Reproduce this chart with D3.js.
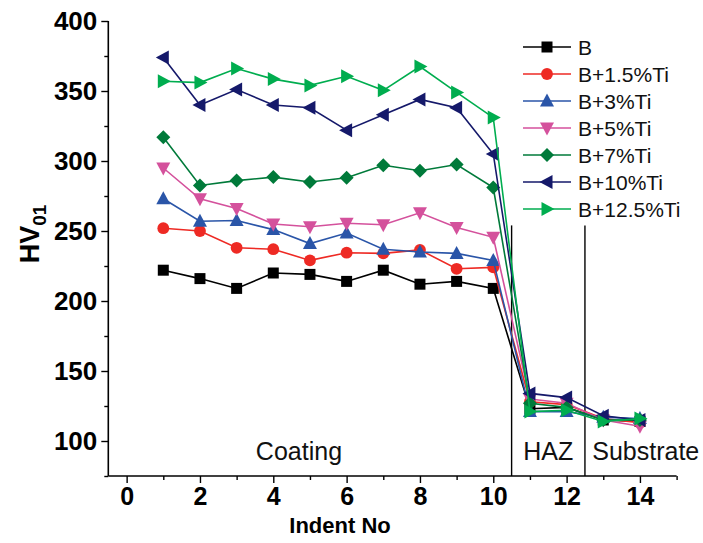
<!DOCTYPE html>
<html><head><meta charset="utf-8">
<script src="https://cdn.jsdelivr.net/npm/d3@7"></script>
<style>
body{margin:0;background:#fff;}
svg{display:block;font-family:"Liberation Sans",Arial,sans-serif;}
</style></head>
<body><svg id="c" width="703" height="543"></svg>
<script>
const indents = [1,2,3,4,5,6,7,8,9,10,11,12,13,14];
const seriesNames = ["B","B+1.5%Ti","B+3%Ti","B+5%Ti","B+7%Ti","B+10%Ti","B+12.5%Ti"];
const sB    = [222,216,209,220,219,214,222,212,214,209,123,124,115,114];
const sTi15 = [252,250,238,237,229,234.5,234,236.5,223,224,128,126,116,113];
const sTi3  = [273,257,257.5,251,241,248.5,237,235,234,229,121,121,117,116];
const sTi5  = [295,273,266,255,253,255.5,254.5,263,252.5,245.5,130,127,115,110.5];
const sTi7  = [317,282.5,286,288.5,285,288,297,293,297.5,281,127,124,115,115];
const sTi10 = [374,340,351,340,338,322,333,344,338,305,134,131,118,115];
const sTi125= [357,356,366,358.5,354,360.5,350.5,367.5,349,331,121,122,114,116];
const xTicks = [0,2,4,6,8,10,12,14];
const yTicks = [100,150,200,250,300,350,400];
const zoneLabels = ["Coating","HAZ","Substrate"];
const zoneBounds = [10.5,12.5];
const zoneTop = 254;

const allSeries = [sB,sTi15,sTi3,sTi5,sTi7,sTi10,sTi125];
const colors = ["#000000","#ee2a24","#2a55a8","#d4519c","#007a3a","#15196a","#00ad4f"];
const shapes = ["square","circle","up","down","diamond","left","right"];

const svg = d3.select("#c");
const x = d3.scaleLinear().domain([-0.5,15]).range([108.3,676.6]);
const y = d3.scaleLinear().domain([75,400]).range([476,21]);

function markerPath(shape){
  const s=6.5;
  switch(shape){
    case "square": return `M${-5.5},${-5.5}h11v11h-11z`;
    case "circle": return d3.symbol(d3.symbolCircle, 110)();
    case "up": return `M0,${-s-1}L${s+0.5},${s-1}L${-s-0.5},${s-1}Z`;
    case "down": return `M0,${s+1}L${s+0.5},${-s+1}L${-s-0.5},${-s+1}Z`;
    case "left": return `M${-s-1},0L${s-1},${-s-0.5}L${s-1},${s+0.5}Z`;
    case "right": return `M${s+1},0L${-s+1},${-s-0.5}L${-s+1},${s+0.5}Z`;
    case "diamond": return `M0,${-s-0.5}L${s+0.5},0L0,${s+0.5}L${-s-0.5},0Z`;
  }
}

// axes
const yAxis = d3.axisLeft(y).tickValues(yTicks).tickSize(7).tickPadding(4).tickFormat(d3.format("d"));
const gy = svg.append("g").attr("transform",`translate(${x(-0.5)},0)`).call(yAxis);
gy.select(".domain").attr("d",`M0,${y(75)}V${y(400)}`).attr("stroke-width",1.6);
gy.selectAll(".tick line").attr("stroke-width",1.4);
gy.selectAll("text").attr("font-size",26).attr("font-weight","bold").attr("fill","#000");
const yMinor = d3.axisLeft(y).tickValues([75,125,175,225,275,325,375]).tickSize(4).tickFormat("");
const gym = svg.append("g").attr("transform",`translate(${x(-0.5)},0)`).call(yMinor);
gym.select(".domain").remove();
gym.selectAll(".tick line").attr("stroke-width",1.4);

const xAxis = d3.axisBottom(x).tickValues(xTicks).tickSize(7).tickPadding(4).tickFormat(d3.format("d"));
const gx = svg.append("g").attr("transform",`translate(0,${y(75)})`).call(xAxis);
gx.select(".domain").attr("d",`M${x(-0.5)},0H${x(15)}`).attr("stroke-width",1.6);
gx.selectAll(".tick line").attr("stroke-width",1.4);
gx.selectAll("text").attr("font-size",25).attr("font-weight","bold").attr("fill","#000");
const xMinor = d3.axisBottom(x).tickValues([1,3,5,7,9,11,13,15]).tickSize(4).tickFormat("");
const gxm = svg.append("g").attr("transform",`translate(0,${y(75)})`).call(xMinor);
gxm.select(".domain").remove();
gxm.selectAll(".tick line").attr("stroke-width",1.4);

// axis titles
svg.append("text").attr("x",340).attr("y",533).attr("text-anchor","middle")
  .attr("font-size",22).attr("font-weight","bold").text("Indent No");
const yt = svg.append("text").attr("transform","translate(39,234) rotate(-90)")
  .attr("text-anchor","middle").attr("font-size",27).attr("font-weight","bold");
yt.append("tspan").text("HV");
yt.append("tspan").attr("font-size",19).attr("dy",7).text("01");

// zone separators
zoneBounds.forEach(b=>{
  svg.append("line").attr("x1",x(b)).attr("x2",x(b)).attr("y1",y(zoneTop)).attr("y2",y(75))
    .attr("stroke","#000").attr("stroke-width",1.4);
});
const zoneX = [x(4.7),x(11.5),x(12.7)];
const anchors = ["middle","middle","start"];
zoneLabels.forEach((t,i)=>{
  svg.append("text").attr("x",zoneX[i]).attr("y",460).attr("text-anchor",anchors[i])
    .attr("font-size",25).attr("fill","#111").text(t);
});

// series
const line = d3.line().x((d,i)=>x(indents[i])).y(d=>y(d));
allSeries.forEach((s,k)=>{
  svg.append("path").attr("d",line(s)).attr("fill","none").attr("stroke",colors[k]).attr("stroke-width",1.6);
  svg.append("g").selectAll("path").data(s).join("path")
    .attr("d",markerPath(shapes[k]))
    .attr("transform",(d,i)=>`translate(${x(indents[i])},${y(d)})`)
    .attr("fill",colors[k]);
});

// legend
const lg = svg.append("g");
seriesNames.forEach((n,k)=>{
  const yy = 47 + k*27;
  lg.append("line").attr("x1",523).attr("x2",571).attr("y1",yy).attr("y2",yy)
    .attr("stroke",colors[k]).attr("stroke-width",1.6);
  lg.append("path").attr("d",markerPath(shapes[k])).attr("transform",`translate(547,${yy})`).attr("fill",colors[k]);
  lg.append("text").attr("x",578).attr("y",yy+7.5).attr("font-size",21).attr("fill","#111").text(n);
});
</script></body></html>
